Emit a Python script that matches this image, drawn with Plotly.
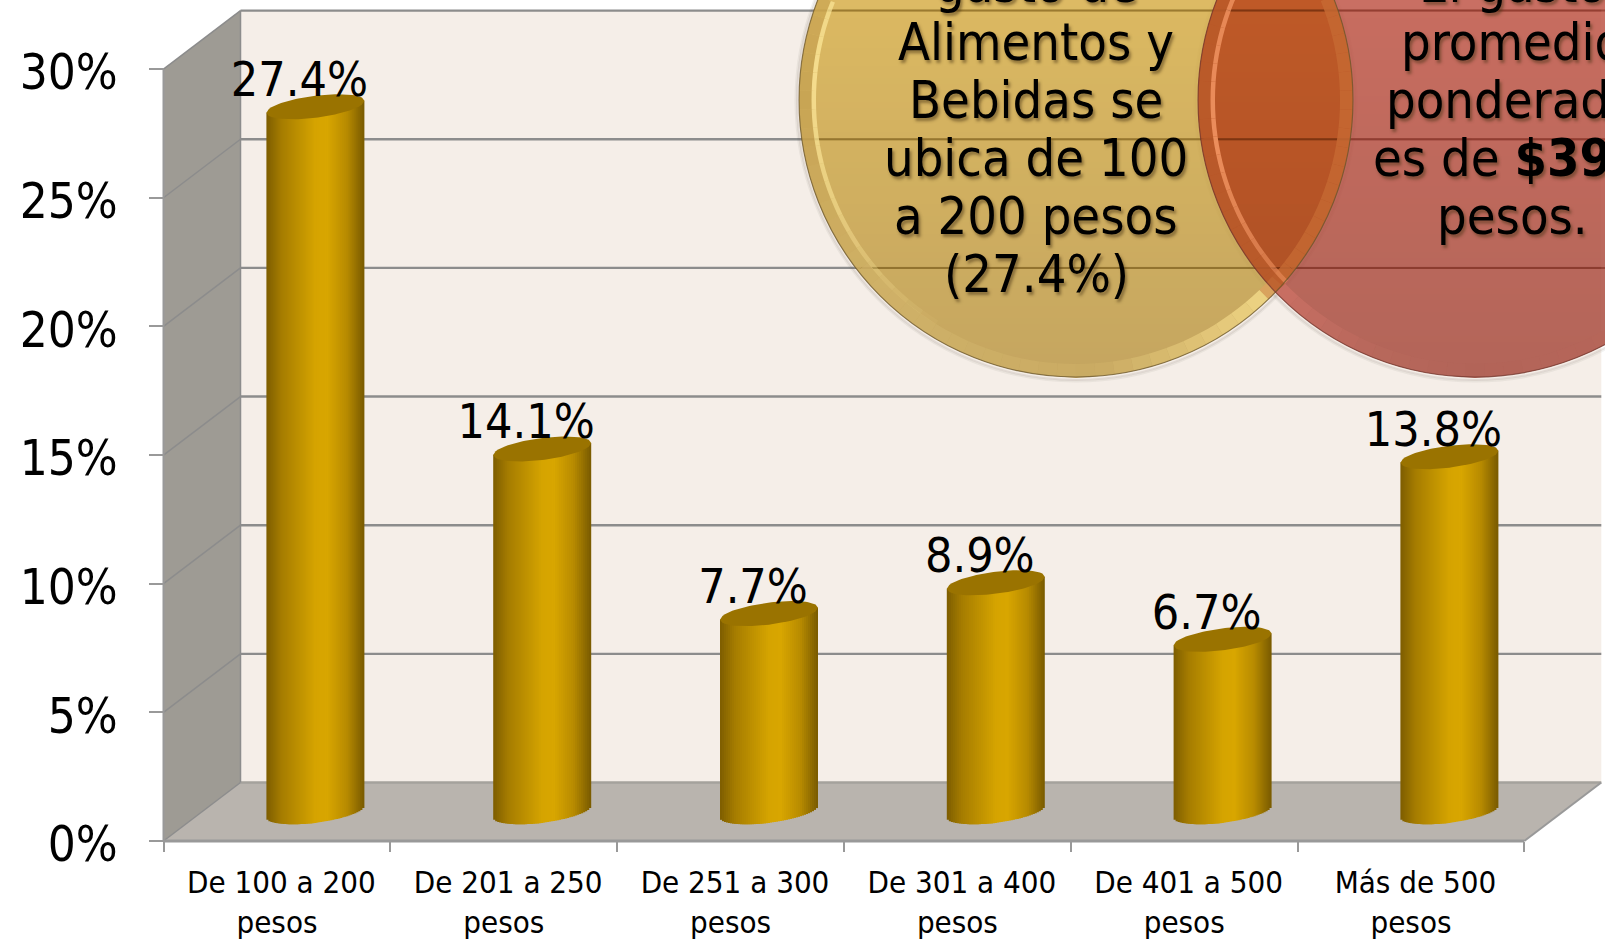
import math
import plotly.graph_objects as go

categories = ["De 100 a 200<br>pesos\u00a0", "De 201 a 250<br>pesos\u00a0", "De 251 a 300<br>pesos\u00a0",
              "De 301 a 400<br>pesos\u00a0", "De 401 a 500<br>pesos\u00a0", "Más de 500<br>pesos\u00a0"]
values = [27.4, 14.1, 7.7, 8.9, 6.7, 13.8]
value_labels = ["27.4%", "14.1%", "7.7%", "8.9%", "6.7%", "13.8%"]
y_ticks = [0, 5, 10, 15, 20, 25, 30]
y_tick_labels = ["0%", "5%", "10%", "15%", "20%", "25%", "30%"]
yellow_lines = ["gasto de", "Alimentos y", "Bebidas se", "ubica de 100", "a 200 pesos", "(27.4%)"]
red_lines = ["El gasto", "promedio", "ponderado", "es de <b>$39</b>", "pesos."]

W, H = 1605, 944
FONT = "DejaVu Sans Condensed, DejaVu Sans, sans-serif"
PX_X = 226.8
PX_Y = 25.73
X0_PX = 163.5
Y0_PX = 841.0
DX_PX, DY_PX = 77.0, 58.5
x_range = [(0 - X0_PX) / PX_X - 0.5, (W - X0_PX) / PX_X - 0.5]
y_range = [(Y0_PX - H) / PX_Y, Y0_PX / PX_Y]
ddx, ddy = DX_PX / PX_X, DY_PX / PX_Y
n = len(categories)
xl, xr = -0.5, n - 0.5

def px(p):
    return p / W
def py(q):
    return 1 - q / H
def lerp(a, b, t):
    return tuple(a[k] + (b[k] - a[k]) * t for k in range(3))
def rgb(c, a=1):
    return "rgba(%d,%d,%d,%.3f)" % (round(c[0]), round(c[1]), round(c[2]), a)
def poly(pts):
    return "M" + " L".join("%.5f,%.5f" % p for p in pts) + " Z"

GRID = "#8C8C8C"
shapes = []
# back wall, side wall, floor
shapes.append(dict(type="rect", xref="x", yref="y", x0=xl + ddx, x1=xr + ddx, y0=ddy, y1=30 + ddy,
                   fillcolor="#F5EEE8", line_width=0, layer="below"))
shapes.append(dict(type="path", xref="x", yref="y", layer="below", fillcolor="#9E9B94", line_width=0,
                   path=poly([(xl, 0), (xl + ddx, ddy), (xl + ddx, 30 + ddy), (xl, 30)])))
shapes.append(dict(type="path", xref="x", yref="y", layer="below", fillcolor="#B9B4AE", line_width=0,
                   path=poly([(xl, 0), (xl + ddx, ddy), (xr + ddx, ddy), (xr, 0)])))
for v in y_ticks:
    shapes.append(dict(type="line", xref="x", yref="y", layer="below", x0=xl + ddx, x1=xr + ddx,
                       y0=v + ddy, y1=v + ddy, line=dict(color=GRID if v else "#A5A29C", width=2.4)))
    shapes.append(dict(type="line", xref="x", yref="y", layer="below", x0=xl, x1=xl + ddx,
                       y0=v, y1=v + ddy, line=dict(color="#8C8C8C", width=1.5)))
shapes.append(dict(type="line", xref="x", yref="y", layer="below", x0=xl + ddx, x1=xl + ddx,
                   y0=ddy, y1=30 + ddy, line=dict(color=GRID, width=1.5)))
shapes.append(dict(type="line", xref="x", yref="y", layer="below", x0=xl, x1=xl, y0=0, y1=30,
                   line=dict(color="#999999", width=2)))
shapes.append(dict(type="line", xref="x", yref="y", layer="below", x0=xl, x1=xr, y0=0, y1=0,
                   line=dict(color="#999999", width=3)))
shapes.append(dict(type="line", xref="x", yref="y", layer="below", x0=xr, x1=xr + ddx, y0=0, y1=ddy,
                   line=dict(color="#999999", width=2)))

# translucent bubbles, as horizontal bands for the vertical gradient
R = 277.0
RIM = 13.0
CY = 100.0
CXY, CXR = 1076.0, 1475.0
A = 0.86
BG = (245, 238, 232)
def under(c):
    return tuple(min(255, max(0, (c[k] - (1 - A) * BG[k]) / A)) for k in range(3))
def half(q, r=R):
    d = r * r - (q - CY) ** 2
    return math.sqrt(d) if d > 0 else 0

# soft shadow beneath the bubbles
for cx in (CXY, CXR):
    for extra, al in ((3.5, 0.07), (2, 0.13)):
        r = R + extra
        shapes.append(dict(type="circle", xref="paper", yref="paper", layer="above",
                           x0=px(cx - r), x1=px(cx + r), y0=py(CY + r + 1), y1=py(CY - r + 1),
                           line=dict(color="rgba(90,80,70,%.2f)" % al, width=2), fillcolor="rgba(0,0,0,0)"))

STEP = 6
for q0 in range(0, 378, STEP):
    q1 = q0 + STEP
    t = min(1, q0 / 377)
    qs = [q0 + (q1 - q0) * k / 3 for k in range(4)]
    for cx, top, bot in ((CXY, (219, 184, 96), (196, 165, 95)), (CXR, (199, 108, 95), (178, 100, 88))):
        left = [(px(cx - half(q)), py(q)) for q in qs]
        right = [(px(cx + half(q)), py(q)) for q in reversed(qs)]
        shapes.append(dict(type="path", xref="paper", yref="paper", layer="above", line_width=0,
                           fillcolor=rgb(under(lerp(top, bot, t)), A), path=poly(left + right)))
    if half(q0) > (CXR - CXY) / 2 or half(q1) > (CXR - CXY) / 2:
        left = [(px(min(CXR - half(q), CXY + half(q))), py(q)) for q in qs]
        right = [(px(CXY + half(q)), py(q)) for q in reversed(qs)]
        shapes.append(dict(type="path", xref="paper", yref="paper", layer="above", line_width=0,
                           fillcolor=rgb(lerp((190, 88, 36), (172, 80, 36), t), 0.92), path=poly(left + right)))

# gridlines seen through the bubbles
for v in y_ticks:
    q = Y0_PX - (v + ddy) * PX_Y
    if half(q) <= 0:
        continue
    w = half(q)
    shapes.append(dict(type="line", xref="paper", yref="paper", layer="above", x0=px(CXY - w), x1=px(CXY + w),
                       y0=py(q), y1=py(q), line=dict(color="rgba(95,65,5,0.45)", width=2)))
    shapes.append(dict(type="line", xref="paper", yref="paper", layer="above", x0=px(CXR - w), x1=px(CXR + w),
                       y0=py(q), y1=py(q), line=dict(color="rgba(105,25,10,0.45)", width=2)))

# bevelled rims, coloured by angle (degrees clockwise from the right, on screen)
yellow_rim = [(-130, (214, 178, 92)), (-60, (214, 178, 92)), (-58, (198, 104, 50)), (43, (196, 104, 50)),
              (45, (244, 220, 138)), (62, (228, 200, 122)), (85, (202, 172, 100)),
              (135, (208, 178, 105)), (180, (198, 162, 82)), (230, (212, 176, 90))]
red_rim = [(-60, (205, 112, 98)), (0, (190, 105, 92)), (90, (178, 100, 88)), (112, (184, 104, 92)),
           (134, (202, 112, 100)), (136, (186, 92, 44)), (224, (186, 90, 40)), (226, (205, 112, 98)),
           (300, (205, 112, 98))]
yellow_glow = [(-130, 0.45), (-100, 0.2), (-58, 0.0), (120, 0.0), (155, 0.55), (185, 0.85), (230, 0.45)]
red_glow = [(-60, 0.0), (100, 0.0), (134, 0.0), (137, 0.55), (170, 0.95), (210, 0.8), (224, 0.6), (226, 0.0), (300, 0.0)]
def key(table, a):
    for (a0, c0), (a1, c1) in zip(table, table[1:]):
        if a0 <= a <= a1:
            f = (a - a0) / (a1 - a0)
            if isinstance(c0, tuple):
                return lerp(c0, c1, f)
            return c0 + (c1 - c0) * f
    return table[-1][1]
def wedge(cx, r0, r1, a0, a1):
    pts = []
    for r, (s, e) in ((r1, (a0, a1)), (r0, (a1, a0))):
        for k in range(3):
            a = math.radians(s + (e - s) * k / 2)
            pts.append((px(cx + r * math.cos(a)), py(CY + r * math.sin(a))))
    return poly(pts)
ARC = 4
for cx, rim, glow, lo, hi, glowcol in ((CXY, yellow_rim, yellow_glow, -130, 230, (250, 228, 150)),
                                       (CXR, red_rim, red_glow, -60, 300, (238, 145, 95))):
    for a0 in range(lo, hi, ARC):
        a1 = a0 + ARC
        mid = (a0 + a1) / 2
        if CY + R * math.sin(math.radians(mid)) < -5 or cx + (R - RIM) * math.cos(math.radians(mid)) > W + 5:
            continue
        shapes.append(dict(type="path", xref="paper", yref="paper", layer="above", line_width=0,
                           fillcolor=rgb(key(rim, mid), 0.85), path=wedge(cx, R - RIM, R, a0, a1)))
        g = key(glow, mid)
        if g > 0.02:
            shapes.append(dict(type="path", xref="paper", yref="paper", layer="above", line_width=0,
                               fillcolor=rgb(glowcol, g), path=wedge(cx, R - RIM - 4, R - RIM + 0.5, a0, a1)))
for cx, col in ((CXY, "rgba(105,85,45,0.75)"), (CXR, "rgba(115,55,45,0.75)")):
    shapes.append(dict(type="circle", xref="paper", yref="paper", layer="above",
                       x0=px(cx - R), x1=px(cx + R), y0=py(CY + R), y1=py(CY - R),
                       line=dict(color=col, width=1.2), fillcolor="rgba(0,0,0,0)"))

fig = go.Figure()

# cylinders: bars at mid depth of the floor, built of overlapping vertical strips
depth_x, depth_y = ddx / 2, ddy / 2
BAR_PX = 98.0
half_w = BAR_PX / 2 / PX_X
tilt = 6.0 / PX_Y
thick = 11.0 / PX_Y
STRIPS = 49
stops = [(0, (125, 93, 0)), (0.15, (165, 124, 0)), (0.5, (213, 164, 0)), (0.62, (216, 166, 0)),
         (0.82, (184, 139, 0)), (1, (120, 90, 0))]
def ramp(t):
    for (a, ca), (b, cb) in zip(stops, stops[1:]):
        if t <= b:
            return lerp(ca, cb, (t - a) / (b - a))
    return stops[-1][1]
idx = list(range(n))
sw = 2 * half_w / STRIPS
mid_strip = STRIPS // 2
order = list(range(mid_strip)) + list(range(STRIPS - 1, mid_strip, -1)) + [mid_strip]
for s in order:
    t = (s + 0.5) / STRIPS
    u = 2 * t - 1
    rise = tilt * u
    drop = thick * math.sqrt(max(0, 1 - u * u))
    base = [depth_y + rise - drop for _ in values]
    height = [v + drop for v in values]
    start = depth_x - half_w + sw * s
    if s < mid_strip:
        off, wid = start, sw * 2
    elif s > mid_strip:
        off, wid = start - sw, sw * 2
    else:
        off, wid = start, sw
    fig.add_bar(x=idx, y=height, base=base, offset=off, width=wid,
                marker=dict(color=rgb(ramp(t)), line_width=0), showlegend=False, hoverinfo="skip")
# cylinder tops
for i, v in enumerate(values):
    us = [-1 + 2 * k / 40 for k in range(41)]
    xs = [i + depth_x + half_w * u for u in us] + [i + depth_x + half_w * u for u in reversed(us)]
    ys = [v + depth_y + tilt * u + thick * math.sqrt(1 - u * u) for u in us] + \
         [v + depth_y + tilt * u - thick * math.sqrt(1 - u * u) for u in reversed(us)]
    fig.add_scatter(x=xs, y=ys, mode="lines", fill="toself", fillcolor="#9A7300",
                    line=dict(width=0), showlegend=False, hoverinfo="skip")
# value labels
fig.add_scatter(x=[i + depth_x - 16 / PX_X for i in idx], y=[v + depth_y + 22.5 / PX_Y for v in values],
                xaxis="x2", mode="text", text=value_labels, textposition="middle center",
                textfont=dict(family=FONT, size=48, color="black"), showlegend=False, hoverinfo="skip")

annotations = []
SHADOW = "2px 3px 3px rgba(70,50,20,0.5)"
for k, line in enumerate(yellow_lines):
    annotations.append(dict(xref="paper", yref="paper", x=px(1036), y=py(-16 + 58 * k), text=line,
                            showarrow=False, xanchor="center", yanchor="middle",
                            font=dict(family=FONT, size=52, color="black", shadow=SHADOW)))
for k, line in enumerate(red_lines):
    if "<b>" in line:
        annotations.append(dict(xref="paper", yref="paper", x=px(1371), y=py(-16 + 58 * k), text=line,
                                showarrow=False, xanchor="left", yanchor="middle",
                                font=dict(family=FONT, size=52, color="black", shadow=SHADOW)))
    else:
        annotations.append(dict(xref="paper", yref="paper", x=px(1512), y=py(-16 + 58 * k), text=line,
                                showarrow=False, xanchor="center", yanchor="middle",
                                font=dict(family=FONT, size=52, color="black", shadow=SHADOW)))

fig.update_layout(
    width=W, height=H, margin=dict(l=0, r=0, t=0, b=0, pad=0, autoexpand=False),
    paper_bgcolor="white", plot_bgcolor="rgba(0,0,0,0)", barmode="overlay", showlegend=False,
    shapes=shapes, annotations=annotations,
    xaxis=dict(domain=[0, 1], range=x_range, anchor="free", position=(H - Y0_PX) / H, showgrid=False,
               zeroline=False, showline=False, tickmode="array",
               tickvals=[i - 0.5 for i in range(n + 1)], showticklabels=False,
               ticks="outside", ticklen=10, tickwidth=2, tickcolor="#999999"),
    xaxis2=dict(domain=[0, 1], range=x_range, overlaying="x", anchor="free", position=(H - Y0_PX) / H,
                side="bottom", showgrid=False, zeroline=False, showline=False, tickmode="array",
                tickvals=[i + 4.5 / PX_X for i in range(n)], ticktext=categories, ticks="", tickangle=0,
                ticklabelstandoff=20, tickfont=dict(family=FONT, size=31, color="black")),
    yaxis=dict(domain=[0, 1], range=y_range, anchor="free", position=X0_PX / W, showgrid=False,
               zeroline=False, showline=False, tickmode="array", tickvals=y_ticks, ticktext=y_tick_labels,
               ticks="outside", ticklen=15, tickwidth=2, tickcolor="#999999", ticklabelstandoff=21,
               ticklabelshift=3, tickfont=dict(family=FONT, size=49, color="black")),
)
fig.write_html("out.html", config=dict(displayModeBar=False),
               post_script="document.body.style.margin='0';document.body.style.overflow='hidden';")
